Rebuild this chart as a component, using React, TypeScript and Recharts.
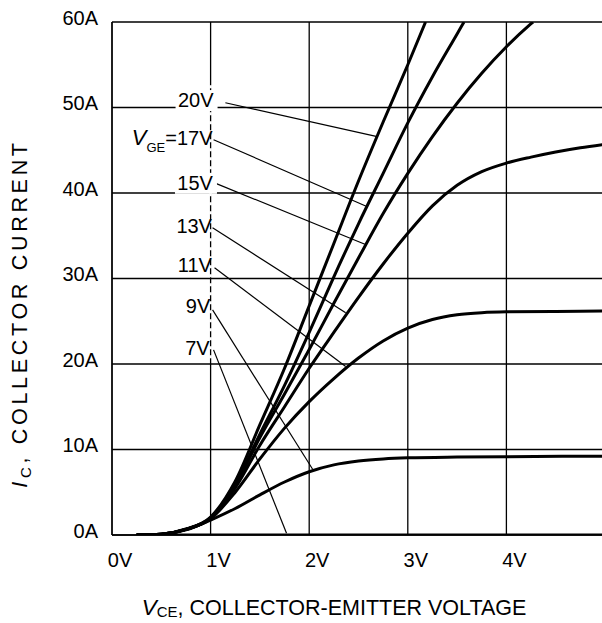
import React from "react";
import { LineChart, Line, XAxis, YAxis, CartesianGrid, ReferenceLine, ReferenceDot } from "recharts";

const FONT = "'Liberation Sans', Arial, Helvetica, sans-serif";

const xTicks = [0, 1, 2, 3, 4];
const yTicks = [0, 10, 20, 30, 40, 50, 60];

// IC (A) against VCE (V)
const vge7 = [
  { v: 0.25, i: 0 },
  { v: 5, i: 0 },
];
const vge9 = [
  { v: 0.25, i: 0 }, { v: 0.5, i: 0.1 }, { v: 0.75, i: 0.6 }, { v: 1.0, i: 1.75 },
  { v: 1.25, i: 3.1 }, { v: 1.5, i: 4.7 }, { v: 1.75, i: 6.2 }, { v: 2.0, i: 7.4 },
  { v: 2.25, i: 8.2 }, { v: 2.5, i: 8.65 }, { v: 2.75, i: 8.9 }, { v: 3.0, i: 9.03 },
  { v: 3.5, i: 9.12 }, { v: 4.0, i: 9.16 }, { v: 5.0, i: 9.22 },
];
const vge11 = [
  { v: 0.25, i: 0 }, { v: 0.5, i: 0.1 }, { v: 0.75, i: 0.65 }, { v: 1.0, i: 1.9 },
  { v: 1.25, i: 5.0 }, { v: 1.5, i: 8.9 }, { v: 1.75, i: 12.5 }, { v: 2.0, i: 15.6 },
  { v: 2.25, i: 18.3 }, { v: 2.5, i: 20.7 }, { v: 2.75, i: 22.7 }, { v: 3.0, i: 24.2 },
  { v: 3.25, i: 25.2 }, { v: 3.5, i: 25.75 }, { v: 3.75, i: 26.0 }, { v: 4.0, i: 26.1 },
  { v: 4.5, i: 26.15 }, { v: 5.0, i: 26.2 },
];
const vge13 = [
  { v: 0.25, i: 0 }, { v: 0.5, i: 0.1 }, { v: 0.75, i: 0.65 }, { v: 1.0, i: 2.0 },
  { v: 1.25, i: 5.5 }, { v: 1.5, i: 10.5 }, { v: 1.75, i: 15.0 }, { v: 2.0, i: 19.5 },
  { v: 2.25, i: 23.7 }, { v: 2.5, i: 27.8 }, { v: 2.75, i: 31.7 }, { v: 3.0, i: 35.3 },
  { v: 3.25, i: 38.5 }, { v: 3.5, i: 40.9 }, { v: 3.75, i: 42.5 }, { v: 4.0, i: 43.5 },
  { v: 4.25, i: 44.2 }, { v: 4.5, i: 44.8 }, { v: 4.75, i: 45.3 }, { v: 5.0, i: 45.7 },
];
const vge15 = [
  { v: 0.25, i: 0 }, { v: 0.5, i: 0.1 }, { v: 0.75, i: 0.65 }, { v: 1.0, i: 2.0 },
  { v: 1.25, i: 5.8 }, { v: 1.5, i: 11.4 }, { v: 1.75, i: 16.5 }, { v: 2.0, i: 21.7 },
  { v: 2.25, i: 27.1 }, { v: 2.5, i: 32.4 }, { v: 2.75, i: 37.6 }, { v: 3.0, i: 42.3 },
  { v: 3.25, i: 46.6 }, { v: 3.5, i: 50.5 }, { v: 3.75, i: 54.0 }, { v: 4.0, i: 57.1 },
  { v: 4.25, i: 59.8 }, { v: 4.27, i: 60 },
];
const vge17 = [
  { v: 0.25, i: 0 }, { v: 0.5, i: 0.1 }, { v: 0.75, i: 0.65 }, { v: 1.0, i: 2.0 },
  { v: 1.25, i: 6.0 }, { v: 1.5, i: 11.8 }, { v: 1.75, i: 17.5 }, { v: 2.0, i: 23.7 },
  { v: 2.25, i: 30.2 }, { v: 2.5, i: 36.4 }, { v: 2.75, i: 42.3 }, { v: 3.0, i: 48.2 },
  { v: 3.25, i: 53.6 }, { v: 3.5, i: 58.6 }, { v: 3.57, i: 60 },
];
const vge20 = [
  { v: 0.25, i: 0 }, { v: 0.5, i: 0.1 }, { v: 0.75, i: 0.7 }, { v: 1.0, i: 2.1 },
  { v: 1.25, i: 6.3 }, { v: 1.5, i: 12.9 }, { v: 1.75, i: 19.5 }, { v: 2.0, i: 26.8 },
  { v: 2.25, i: 34.1 }, { v: 2.5, i: 41.4 }, { v: 2.75, i: 48.3 }, { v: 3.0, i: 55.0 },
  { v: 3.18, i: 60 },
];

const curves = [vge7, vge9, vge11, vge13, vge15, vge17, vge20];

// curve labels: text end point and leader line, in data units
const labels = [
  { text: "20V", at: { x: 1.03, y: 50.05 }, w: 37, boxed: true, from: { x: 1.15, y: 50.56 }, to: { x: 2.69, y: 46.6 } },
  { text: "=17V", sub: "GE", at: { x: 1.02, y: 45.64 }, w: 78, boxed: false, from: { x: 1.03, y: 46.23 }, to: { x: 2.59, y: 38.4 } },
  { text: "15V", at: { x: 1.024, y: 40.37 }, w: 37, boxed: true, from: { x: 1.04, y: 41.19 }, to: { x: 2.565, y: 34 } },
  { text: "13V", at: { x: 1.014, y: 35.38 }, w: 37, boxed: false, from: { x: 1.02, y: 35.93 }, to: { x: 2.37, y: 26 } },
  { text: "11V", at: { x: 1.014, y: 30.81 }, w: 37, boxed: false, from: { x: 1.04, y: 31.25 }, to: { x: 2.37, y: 19.7 } },
  { text: "9V", at: { x: 0.997, y: 25.94 }, w: 25, boxed: false, from: { x: 1.02, y: 26.33 }, to: { x: 2.035, y: 7.69 } },
  { text: "7V", at: { x: 0.99, y: 21.07 }, w: 25, boxed: false, from: { x: 1.03, y: 21.65 }, to: { x: 1.77, y: 0.2 } },
];

const XTick = ({ x, y, payload }: any) => (
  <text x={x + 8} y={y + 32} textAnchor="middle" fontSize={20} fontFamily={FONT} fill="#000">
    {payload.value}V
  </text>
);

const YTick = ({ x, y, payload }: any) => (
  <text x={x} y={y + 2.5} textAnchor="end" fontSize={20} fontFamily={FONT} fill="#000">
    {payload.value}A
  </text>
);

const CurveLabel = ({ cx, cy, item }: any) => (
  <g>
    {item.boxed && <rect x={cx - item.w - 1} y={cy - 17} width={item.w + 5} height={21} fill="#fff" />}
    <text x={cx} y={cy} textAnchor="end" fontSize={20} fontFamily={FONT} fill="#000">
      {item.sub ? (
        <>
          <tspan fontStyle="italic" fontSize={22}>V</tspan>
          <tspan fontSize={13} dy={7}>{item.sub}</tspan>
          <tspan dy={-7}>{item.text}</tspan>
        </>
      ) : (
        item.text
      )}
    </text>
  </g>
);

export default function App() {
  return (
    <div style={{ position: "absolute", left: 0, top: 0, width: 602, height: 623, overflow: "hidden", background: "#fff" }}>
      <LineChart width={606} height={623} margin={{ top: 22, right: 1, left: 0, bottom: 0 }}>
        <CartesianGrid stroke="#000" strokeWidth={1.3} />
        <XAxis
          dataKey="v"
          type="number"
          domain={[0, 5]}
          ticks={xTicks}
          height={88}
          tickSize={0}
          tickMargin={0}
          tick={<XTick />}
          axisLine={{ stroke: "#000", strokeWidth: 1.3 }}
          tickLine={false}
          allowDataOverflow
        />
        <YAxis
          type="number"
          domain={[0, 60]}
          ticks={yTicks}
          width={112}
          tickSize={0}
          tickMargin={14}
          tick={<YTick />}
          axisLine={{ stroke: "#000", strokeWidth: 1.3 }}
          tickLine={false}
          allowDataOverflow
        />
        <ReferenceLine
          segment={[{ x: 1, y: 52.6 }, { x: 1, y: 20.3 }]}
          stroke="#fff"
          strokeWidth={2.5}
          strokeDasharray="3 6"
          ifOverflow="visible"
        />
        {labels.map((l) => (
          <ReferenceLine
            key={"lead" + l.text}
            segment={[l.from, l.to]}
            stroke="#000"
            strokeWidth={1.2}
            ifOverflow="visible"
          />
        ))}
        {labels.map((l) => (
          <ReferenceDot
            key={"lab" + l.text}
            x={l.at.x}
            y={l.at.y}
            r={1}
            ifOverflow="visible"
            shape={(p: any) => <CurveLabel cx={p.cx} cy={p.cy} item={l} />}
          />
        ))}
        {curves.map((c, k) => (
          <Line
            key={k}
            data={c}
            dataKey="i"
            type="monotone"
            stroke="#000"
            strokeWidth={3}
            dot={false}
            activeDot={false}
            isAnimationActive={false}
          />
        ))}
      </LineChart>
      <svg width={602} height={623} style={{ position: "absolute", left: 0, top: 0, pointerEvents: "none" }}>
        <text x={141.7} y={615} fontSize={21.5} fontFamily={FONT} fill="#000">
          <tspan fontStyle="italic" fontSize={22.5}>V</tspan>
          <tspan fontSize={15} dy={2}>CE</tspan>
          <tspan dy={-2}>, COLLECTOR-EMITTER VOLTAGE</tspan>
        </text>
        <text
          transform="translate(27,143) rotate(-90)"
          textAnchor="end"
          fontSize={21.5}
          fontFamily={FONT}
          fill="#000"
          textLength={345}
          lengthAdjust="spacing"
        >
          <tspan fontStyle="italic" fontSize={22.5}>I</tspan>
          <tspan fontSize={15} dy={4}>C</tspan>
          <tspan dy={-4}>, COLLECTOR CURRENT</tspan>
        </text>
      </svg>
    </div>
  );
}
